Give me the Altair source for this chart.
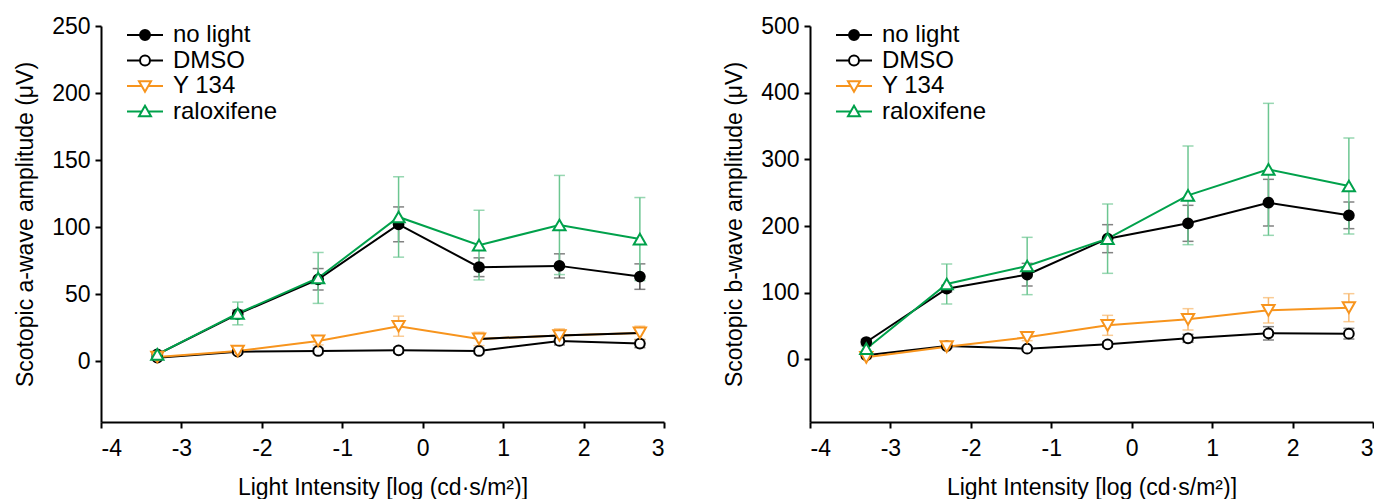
import altair as alt
import pandas as pd

# ---------------- data ----------------
x_vals = [-3.3, -2.3, -1.3, -0.3, 0.7, 1.7, 2.7]
series_names = ["no light", "DMSO", "Y 134", "raloxifene"]

# a-wave (left panel)
no_light_a = [5, 35, 61, 102, 70, 71, 63]
no_light_a_err = [2, 3, 8, 13, 7, 9, 9.5]
dmso_a = [2.5, 7, 7.5, 8, 7.5, 15, 13]
dmso_a_err = [1, 1.5, 2, 2, 2, 3, 3]
y134_a = [3, 7.5, 15, 26, 16.5, 19, 21]
y134_a_err = [1, 2, 3, 7.5, 5, 5, 5]
ralox_a = [5, 35.5, 62, 107.5, 86.5, 101.5, 91]
ralox_a_err = [2, 8.5, 19, 30, 26, 37, 31]

# b-wave (right panel)
no_light_b = [26, 106, 127, 181, 204, 235, 216]
no_light_b_err = [4, 5, 17, 21, 27, 35, 20]
dmso_b = [6, 20, 16, 22.5, 31.5, 39, 38.5]
dmso_b_err = [2, 3, 3, 4, 6, 10, 8]
y134_b = [3, 19, 33, 51, 60, 73.5, 77.5]
y134_b_err = [2, 3, 5, 15, 16, 19, 21]
ralox_b = [16, 113, 140, 181, 246, 285, 260]
ralox_b_err = [4, 30, 43, 52, 74, 99, 72]

x_ticks = [-4, -3, -2, -1, 0, 1, 2, 3]
y_ticks_a = [0, 50, 100, 150, 200, 250]
y_ticks_b = [0, 100, 200, 300, 400, 500]

# ---------------- styles ----------------
FONT = "Liberation Sans"
line_colors = {"no light": "#000000", "DMSO": "#000000", "Y 134": "#F7941D", "raloxifene": "#00A14B"}
err_colors = {"no light": "#4d4d4d", "DMSO": "#4d4d4d", "Y 134": "#F8B66A", "raloxifene": "#6CC691"}
shapes = {"no light": "circle", "DMSO": "circle", "Y 134": "triangle-down", "raloxifene": "triangle-up"}
fills = {"no light": "#000000", "DMSO": "#ffffff", "Y 134": "#ffffff", "raloxifene": "#ffffff"}
sizes = {"no light": 95, "DMSO": 95, "Y 134": 150, "raloxifene": 150}

legend_paths = [
    "M-3,0H-0.83M0.83,0H3M0.83,0A0.83,0.83,0,1,1,-0.83,0A0.83,0.83,0,1,1,0.83,0Z",
    "M-3,0H-0.83M0.83,0H3M0.83,0A0.83,0.83,0,1,1,-0.83,0A0.83,0.83,0,1,1,0.83,0Z",
    "M-3,0H-0.54M0.54,0H3M-1,-0.8L1,-0.8L0,0.95Z",
    "M-3,0H-0.54M0.54,0H3M0,-0.95L1,0.8L-1,0.8Z",
]

W, H = 563, 396
HYPHEN = "replace(datum.label, '\u2212', '-')"


def panel(vals, errs, ymin, ymax, yticks, ytitle, black_tail):
    rows = []
    for s, v, e in zip(series_names, vals, errs):
        for xi, vi, ei in zip(x_vals, v, e):
            rows.append({"series": s, "x": xi, "y": vi, "lo": vi - ei, "hi": vi + ei})
    df = pd.DataFrame(rows)
    xscale = alt.Scale(domain=[-4, 3], nice=False, zero=False)
    yscale = alt.Scale(domain=[ymin, ymax], nice=False, zero=False)
    xaxis = alt.Axis(values=x_ticks, title="Light Intensity [log (cd·s/m²)]", format="d",
                     labelExpr=HYPHEN, labelPadding=9, titlePadding=16)
    yaxis = alt.Axis(values=yticks, title=ytitle, format="d", labelPadding=5, titlePadding=14)
    X = alt.X("x:Q", scale=xscale, axis=xaxis)
    base = alt.Chart(df)
    layers = []
    for s in series_names:
        sub = base.transform_filter(alt.datum.series == s)
        c = err_colors[s]
        layers.append(sub.mark_rule(color=c, strokeWidth=1.5).encode(
            x=X, y=alt.Y("lo:Q", scale=yscale, axis=yaxis), y2="hi:Q"))
        layers.append(sub.mark_tick(color=c, orient="horizontal", size=11, thickness=1.5).encode(
            x=X, y=alt.Y("lo:Q", scale=yscale, axis=yaxis)))
        layers.append(sub.mark_tick(color=c, orient="horizontal", size=11, thickness=1.5).encode(
            x=X, y=alt.Y("hi:Q", scale=yscale, axis=yaxis)))
    for s in series_names:
        sub = base.transform_filter(alt.datum.series == s)
        layers.append(sub.mark_line(color=line_colors[s], strokeWidth=2).encode(
            x=X, y=alt.Y("y:Q", scale=yscale, axis=yaxis)))
    if black_tail:
        sub = base.transform_filter((alt.datum.series == "Y 134") & (alt.datum.x >= 0.7))
        layers.append(sub.mark_line(color="#000000", strokeWidth=2).encode(
            x=X, y=alt.Y("y:Q", scale=yscale, axis=yaxis)))
    for s in series_names:
        sub = base.transform_filter(alt.datum.series == s)
        layers.append(sub.mark_point(shape=shapes[s], filled=True, fill=fills[s],
                                     stroke=line_colors[s], strokeWidth=2, size=sizes[s],
                                     opacity=1).encode(
            x=X, y=alt.Y("y:Q", scale=yscale, axis=yaxis)))
    # legend layer
    leg_df = pd.DataFrame({"series": series_names})
    leg = alt.Legend(title=None, orient="none", legendX=32, legendY=-3, labelFont=FONT,
                     labelFontSize=24, labelColor="black", symbolSize=144, symbolStrokeWidth=2,
                     labelOffset=16, rowPadding=1.5, padding=0, symbolOpacity=1)
    dom = series_names
    layers.append(alt.Chart(leg_df).mark_point(filled=True, opacity=0, size=0).encode(
        shape=alt.Shape("series:N", scale=alt.Scale(domain=dom, range=legend_paths), legend=leg),
        fill=alt.Fill("series:N", scale=alt.Scale(domain=dom, range=[fills[s] for s in dom]), legend=leg),
        stroke=alt.Stroke("series:N", scale=alt.Scale(domain=dom, range=[line_colors[s] for s in dom]), legend=leg),
    ))
    return alt.layer(*layers).properties(width=W, height=H)


left = panel([no_light_a, dmso_a, y134_a, ralox_a], [no_light_a_err, dmso_a_err, y134_a_err, ralox_a_err],
             -45.5, 250, y_ticks_a, "Scotopic a-wave amplitude (μV)", True)
right = panel([no_light_b, dmso_b, y134_b, ralox_b], [no_light_b_err, dmso_b_err, y134_b_err, ralox_b_err],
              -94, 500, y_ticks_b, "Scotopic b-wave amplitude (μV)", False)

chart = alt.hconcat(left, right, spacing=58).resolve_scale(
    shape="independent", fill="independent", stroke="independent"
).resolve_legend(shape="independent", fill="independent", stroke="independent").properties(
    padding={"left": 6, "top": 7, "right": 0, "bottom": 0}
).configure_view(stroke=None).configure_axis(
    grid=False, domainColor="black", domainWidth=2, tickColor="black", tickWidth=2, tickSize=6,
    labelFont=FONT, labelFontSize=23, labelColor="black", titleFont=FONT, titleFontSize=23,
    titleFontWeight="normal", titleColor="black"
)

chart.save("out.html", embed_options={"renderer": "svg", "actions": False})
